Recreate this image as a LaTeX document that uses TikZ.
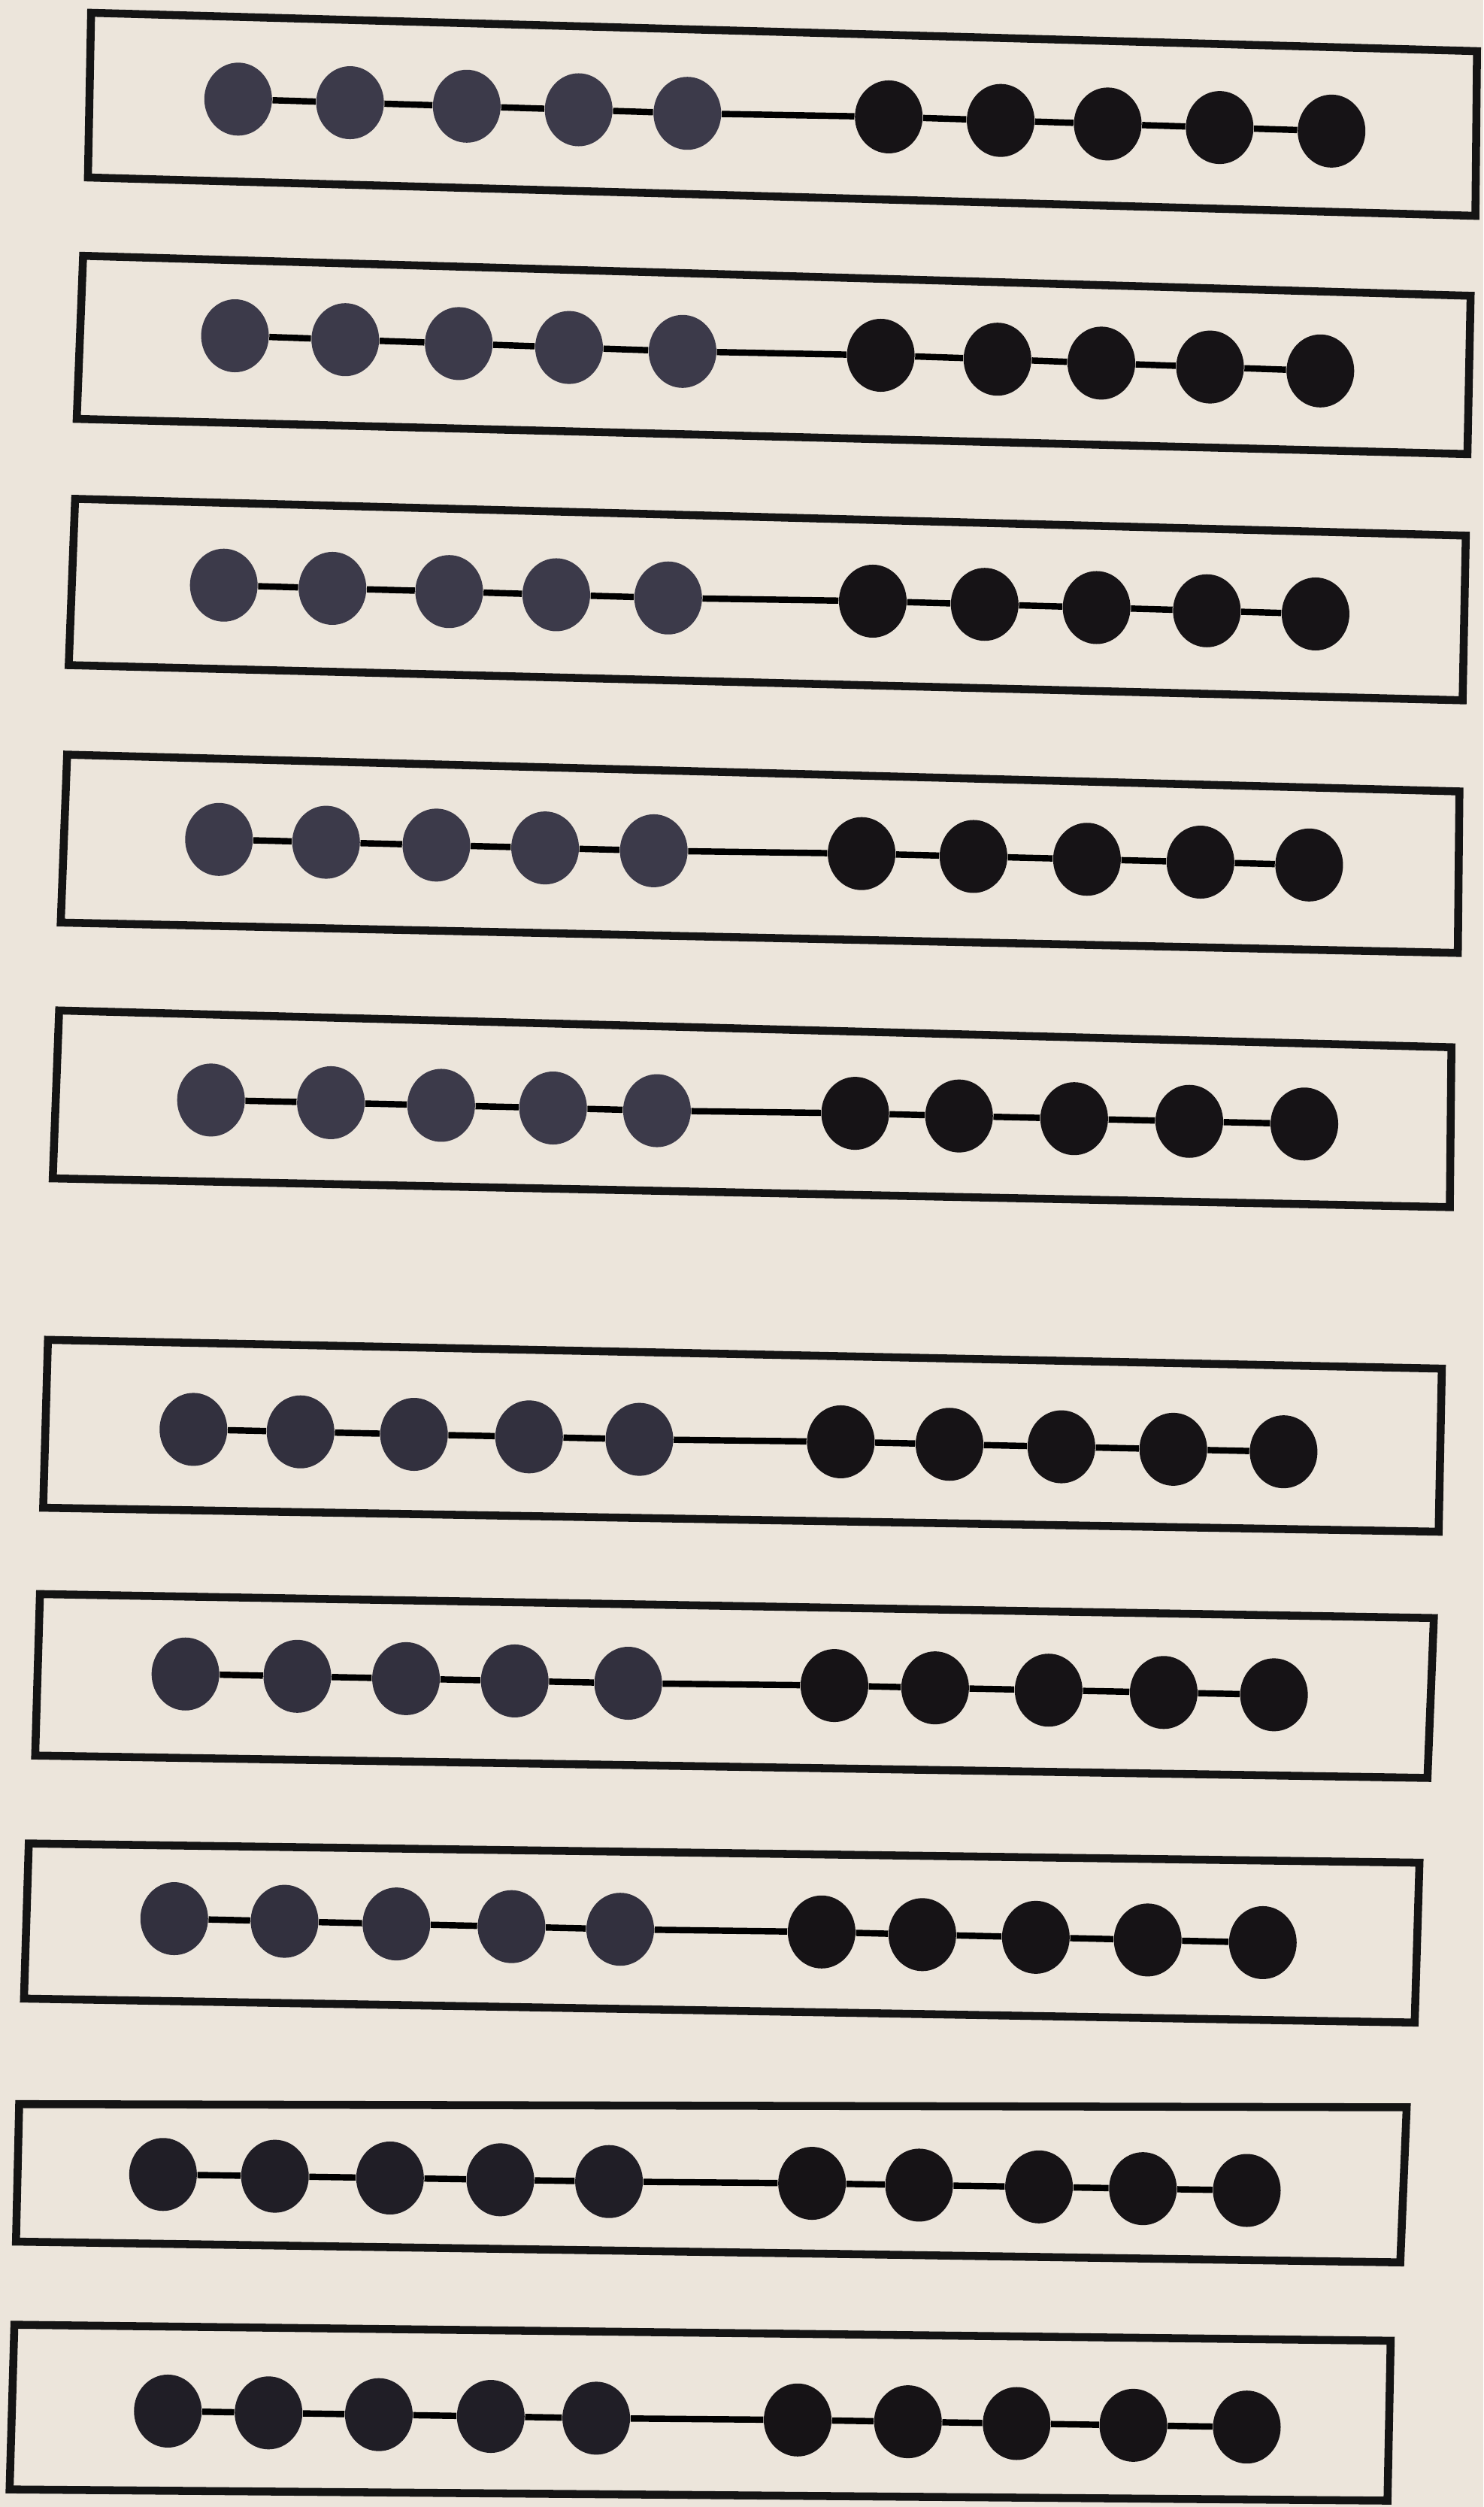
\documentclass[tikz,border=0pt]{standalone}
\usetikzlibrary{shapes.geometric}
\definecolor{paper}{RGB}{236,229,219}
\definecolor{beadA}{RGB}{60,58,74}
\definecolor{beadD}{RGB}{50,48,62}
\definecolor{beadB}{RGB}{22,19,22}
\definecolor{beadC}{RGB}{32,30,38}
\tikzset{
  frame/.style={draw=black!92, line width=3pt, line join=miter},
  rod/.style={draw=black, line width=2.4pt},
  bead/.style={ellipse, inner sep=0pt, minimum width=0.9cm, minimum height=0.97cm}
}
\newcommand\abacusrow[9]{%
  \draw[frame] #2 -- #3 -- #4 -- #5 -- cycle;
  \foreach \xx [count=\i] in {#8} {
    \pgfmathsetmacro\yy{#6+(\i-1)*(#7-#6)/9}
    \ifnum\i<6 \def\bc{#9}\else\def\bc{beadB}\fi
    \node[bead, fill=\bc] (r#1b\i) at (\xx,\yy) {};
  }
  \foreach \i in {1,...,9} {\pgfmathtruncatemacro\j{\i+1}\draw[rod] (r#1b\i) -- (r#1b\j);}
}
\begin{document}
\begin{tikzpicture}[x=0.021261cm,y=-0.021261cm]
\fill[paper] (0,0) rectangle (928,1568);
\useasboundingbox (0,0) rectangle (928,1568);
\abacusrow{1}{(57,8)}{(924,32)}{(923,135)}{(55,111)}{62}{82}{149,219,292,362,430,556,626,693,763,833}{beadA}
\abacusrow{2}{(52,160)}{(920,185)}{(918,284)}{(48,262)}{210}{232}{147,216,287,356,427,551,624,689,757,826}{beadA}
\abacusrow{3}{(47,312)}{(917,335)}{(915,438)}{(43,416)}{366}{384}{140,208,281,348,418,546,616,686,755,823}{beadA}
\abacusrow{4}{(42,472)}{(913,495)}{(912,596)}{(38,577)}{525}{541}{137,204,273,341,409,539,609,680,751,819}{beadA}
\abacusrow{5}{(37,632)}{(908,655)}{(907,755)}{(33,737)}{688}{703}{132,207,276,346,411,535,600,672,744,816}{beadA}
\abacusrow{6}{(30,838)}{(902,856)}{(900,958)}{(27,943)}{894}{908}{121,188,259,331,400,526,594,664,734,803}{beadD}
\abacusrow{7}{(25,997)}{(897,1012)}{(893,1112)}{(22,1098)}{1047}{1060}{116,186,254,322,393,522,585,656,728,797}{beadD}
\abacusrow{8}{(18,1153)}{(888,1165)}{(885,1265)}{(15,1250)}{1200}{1215}{109,178,248,320,388,514,577,648,718,790}{beadD}
\abacusrow{9}{(12,1316)}{(880,1318)}{(876,1415)}{(10,1402)}{1360}{1370}{102,172,244,313,381,508,575,650,715,780}{beadC}
\abacusrow{10}{(9,1454)}{(870,1464)}{(868,1564)}{(6,1557)}{1508}{1518}{105,168,237,307,373,499,568,636,709,780}{beadC}
\end{tikzpicture}
\end{document}
